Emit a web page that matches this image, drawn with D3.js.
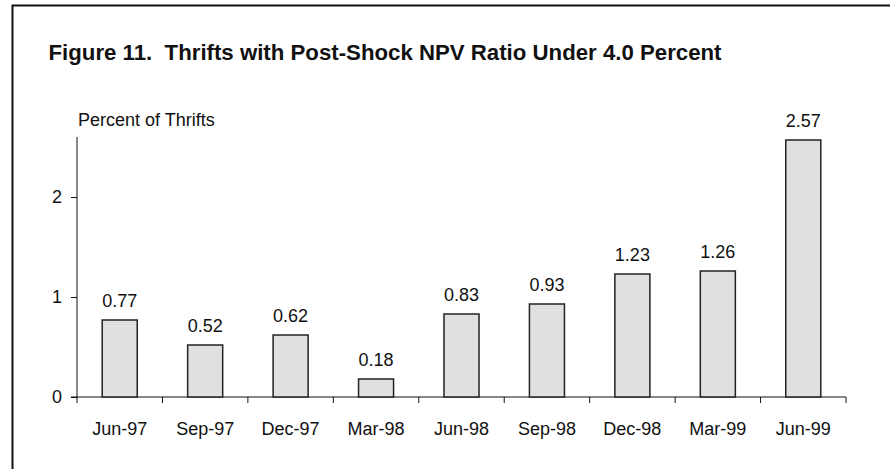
<!DOCTYPE html>
<html>
<head>
<meta charset="utf-8">
<script src="https://cdn.jsdelivr.net/npm/d3@7"></script>
<style>
  body { margin: 0; background: #fff; }
  svg { display: block; font-family: "Liberation Sans", Arial, sans-serif; }
</style>
</head>
<body>
<script>
// data
const quarters = ["Jun-97", "Sep-97", "Dec-97", "Mar-98", "Jun-98", "Sep-98", "Dec-98", "Mar-99", "Jun-99"];
const percents = [0.77, 0.52, 0.62, 0.18, 0.83, 0.93, 1.23, 1.26, 2.57];
const yTicks = [0, 1, 2];

const width = 890, height = 469;

const svg = d3.select("body")
              .append("svg")
              .attr("width", width)
              .attr("height", height);

// outer frame, runs off the right and bottom edges
svg.append("rect")
   .attr("x", 12.5)
   .attr("y", 5.5)
   .attr("width", width)
   .attr("height", height)
   .attr("fill", "none")
   .attr("stroke", "#111")
   .attr("stroke-width", 2);

svg.append("text")
   .attr("x", 48.5)
   .attr("y", 60)
   .attr("font-size", 22)
   .attr("font-weight", "bold")
   .attr("fill", "#111")
   .attr("textLength", 673)
   .attr("lengthAdjust", "spacingAndGlyphs")
   .style("white-space", "pre")
   .text("Figure 11.  Thrifts with Post-Shock NPV Ratio Under 4.0 Percent");

const x = d3.scaleBand()
            .domain(quarters)
            .range([77, 846])
            .padding(0);

const y = d3.scaleLinear()
            .domain([0, 2.6])
            .range([397, 137]);

const barW = x.bandwidth() * 0.41;

// y axis
const yAxis = svg.append("g")
                 .attr("transform", "translate(77,0)")
                 .call(d3.axisLeft(y)
                         .tickValues(yTicks)
                         .tickSize(6)
                         .tickPadding(9)
                         .tickFormat(d3.format("d")));
yAxis.select(".domain").attr("d", `M0,${y.range()[1]}V${y(0)}`);

// x axis with ticks on band edges
const xAxis = svg.append("g")
                 .attr("transform", `translate(0,${y(0)})`);
xAxis.append("line")
     .attr("x1", 71)
     .attr("x2", x.range()[1])
     .attr("stroke", "#111");
xAxis.selectAll("line.edge")
     .data(quarters.concat(["end"]))
     .enter()
     .append("line")
     .attr("class", "edge")
     .attr("x1", (d, i) => x.range()[0] + i * x.step())
     .attr("x2", (d, i) => x.range()[0] + i * x.step())
     .attr("y1", 0)
     .attr("y2", 6)
     .attr("stroke", "#111");
xAxis.selectAll("text")
     .data(quarters)
     .enter()
     .append("text")
     .attr("x", d => x(d) + x.bandwidth() / 2)
     .attr("y", 38)
     .attr("text-anchor", "middle")
     .attr("font-size", 18)
     .attr("fill", "#111")
     .text(d => d);

svg.selectAll(".tick text")
   .attr("font-size", 18)
   .attr("fill", "#111")
   .attr("font-family", "Liberation Sans, Arial, sans-serif");
svg.selectAll(".tick line, .domain").attr("stroke", "#111");

svg.append("text")
   .attr("x", 78)
   .attr("y", 126)
   .attr("font-size", 18)
   .attr("fill", "#111")
   .text("Percent of Thrifts");

// bars
svg.selectAll("rect.bar")
   .data(percents)
   .enter()
   .append("rect")
   .attr("class", "bar")
   .attr("x", (d, i) => x(quarters[i]) + (x.bandwidth() - barW) / 2)
   .attr("y", d => y(d))
   .attr("width", barW)
   .attr("height", d => y(0) - y(d))
   .attr("fill", "#e0e0e0")
   .attr("stroke", "#222")
   .attr("stroke-width", 1.5);

svg.selectAll("text.val")
   .data(percents)
   .enter()
   .append("text")
   .attr("class", "val")
   .attr("x", (d, i) => x(quarters[i]) + x.bandwidth() / 2)
   .attr("y", d => y(d) - 13)
   .attr("text-anchor", "middle")
   .attr("font-size", 18)
   .attr("fill", "#111")
   .text(d => d.toFixed(2));
</script>
</body>
</html>
